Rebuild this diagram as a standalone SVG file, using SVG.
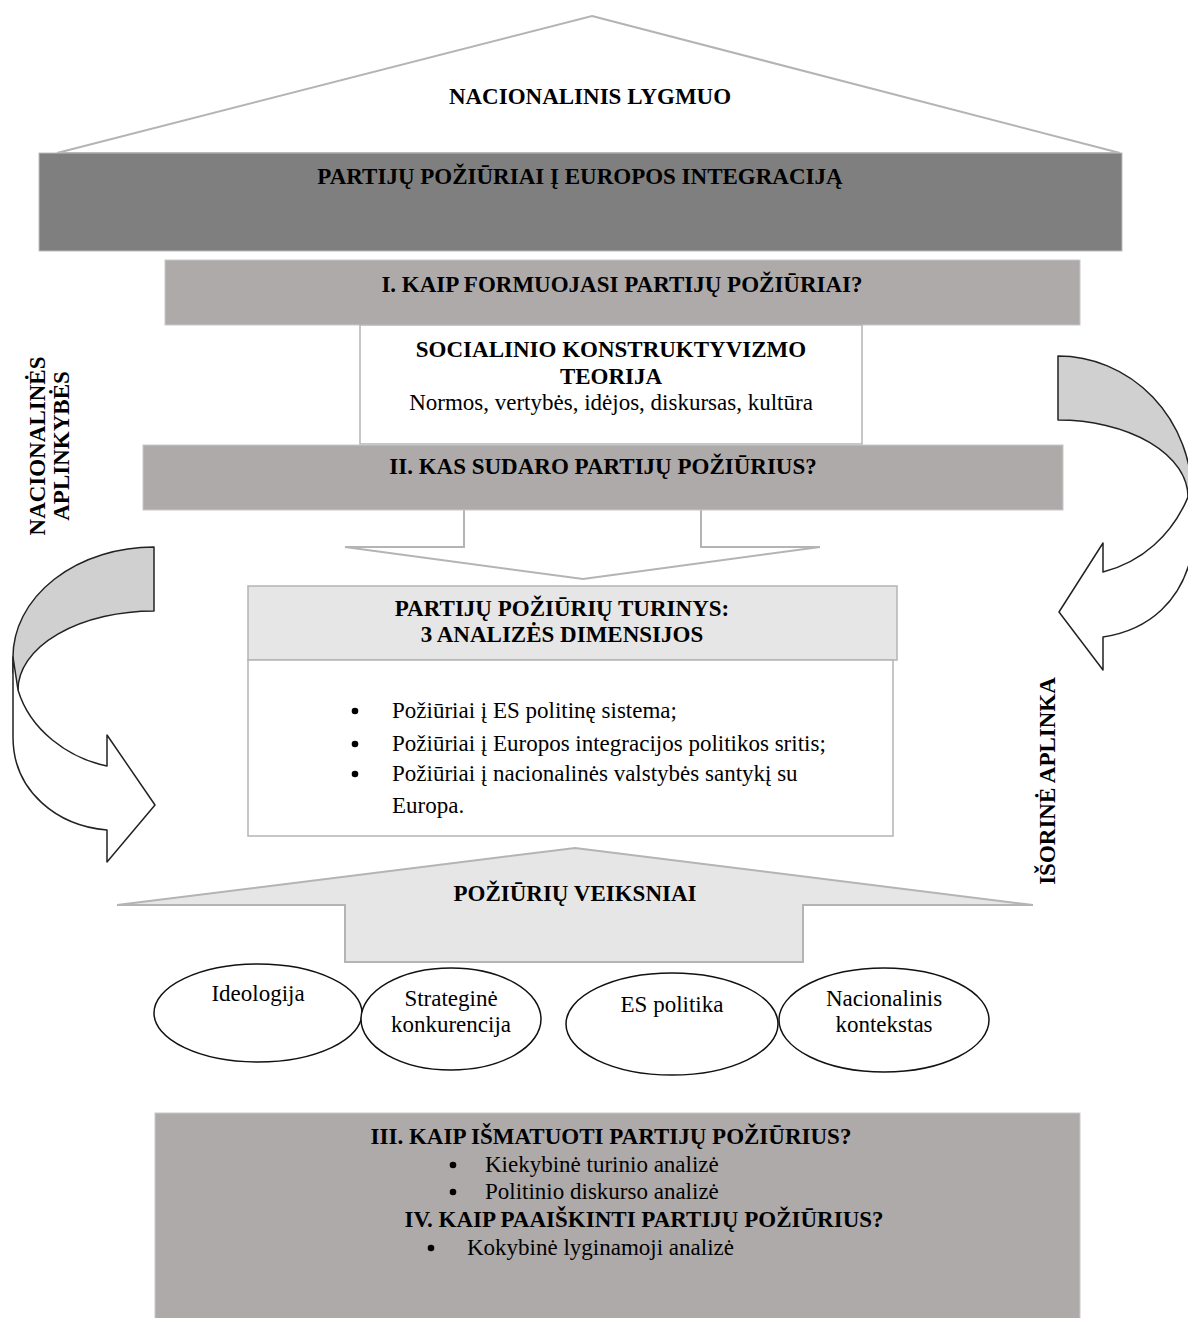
<svg xmlns="http://www.w3.org/2000/svg" width="1188" height="1318" viewBox="0 0 1188 1318">
<style>
text{font-family:"Liberation Serif","Times New Roman",serif;font-size:23px;fill:#000}
.b{font-weight:bold}
.m{text-anchor:middle}
.gbox{fill:#aeaaaa;stroke:#c8c8c8;stroke-width:1}
.wbox{fill:#fff;stroke:#b4b4b4;stroke-width:1.5}
.ln{fill:#fff;stroke:#b4b4b4;stroke-width:2}
.band{fill:#d0d0d0;stroke:#222;stroke-width:1.5;stroke-linejoin:round}
.bandw{fill:#fff;stroke:#222;stroke-width:1.5;stroke-linejoin:round}
.ell{fill:#fff;stroke:#111;stroke-width:1.5}
.dot{fill:#000}
</style>
<rect width="1188" height="1318" fill="#fff"/>

<g id="roof">
<polygon class="ln" points="592,16 1120,153 57,153"/>
<text class="b m" x="590" y="104">NACIONALINIS LYGMUO</text>
</g>

<g id="title">
<rect x="39" y="153" width="1083" height="98" fill="#7f7f7f" stroke="#bdbdbd" stroke-width="1"/>
<text class="b m" x="580" y="184">PARTIJŲ POŽIŪRIAI Į EUROPOS INTEGRACIJĄ</text>
</g>

<g id="connectors">
<polygon class="ln" points="464,505 464,547 345,547 583,579 820,547 701,547 701,505"/>
<polygon points="575,848 1033,905 803,905 803,962 345,962 345,905 117,905" fill="#e7e6e6" stroke="#b4b4b4" stroke-width="2"/>
<g id="left-curved-arrow">
<path class="band" d="M154,547 A141,110 0 0 0 13,657 L13,672 L18,690 A136,79 0 0 1 154,611 Z"/>
<path class="bandw" d="M13,657 L13,737 C13,792 58,826 107,830 L107,862 L155,805 L107,735 L107,766 C68,758 30,730 18,690 Z"/>
</g>
<g id="right-curved-arrow">
<path class="band" d="M1058,356 A134,140 0 0 1 1192,496 L1188,497 A130,77 0 0 0 1058,420 Z"/>
<path class="bandw" d="M1188,497 C1172,535 1142,562 1103,572 L1103,543 L1059,612 L1103,670 L1103,637 C1150,630 1182,600 1192,553 L1192,496 Z"/>
</g>
</g>

<g id="q1">
<rect class="gbox" x="165" y="260" width="915" height="65"/>
<text class="b m" x="622" y="292">I. KAIP FORMUOJASI PARTIJŲ POŽIŪRIAI?</text>
</g>

<g id="theory">
<rect class="wbox" x="360" y="325" width="502" height="119"/>
<text class="b m" x="611" y="357">SOCIALINIO KONSTRUKTYVIZMO</text>
<text class="b m" x="611" y="384">TEORIJA</text>
<text class="m" x="611" y="410">Normos, vertybės, idėjos, diskursas, kultūra</text>
</g>

<g id="q2">
<rect class="gbox" x="143" y="445" width="920" height="65"/>
<text class="b m" x="603" y="474">II. KAS SUDARO PARTIJŲ POŽIŪRIUS?</text>
</g>

<g id="content">
<rect x="248" y="586" width="649" height="74" fill="#e6e6e6" stroke="#b4b4b4" stroke-width="1.5"/>
<text class="b m" x="562" y="616">PARTIJŲ POŽIŪRIŲ TURINYS:</text>
<text class="b m" x="562" y="642">3 ANALIZĖS DIMENSIJOS</text>
<rect class="wbox" x="248" y="660" width="645" height="176"/>
<circle class="dot" cx="355" cy="711" r="3.3"/><text x="392" y="718">Požiūriai į ES politinę sistema;</text>
<circle class="dot" cx="355" cy="744" r="3.3"/><text x="392" y="751">Požiūriai į Europos integracijos politikos sritis;</text>
<circle class="dot" cx="355" cy="774" r="3.3"/><text x="392" y="781">Požiūriai į nacionalinės valstybės santykį su</text>
<text x="392" y="813">Europa.</text>
</g>

<g id="factors">
<text class="b m" x="575" y="901">POŽIŪRIŲ VEIKSNIAI</text>
</g>

<g id="f1"><ellipse class="ell" cx="258" cy="1013" rx="104" ry="49"/><text class="m" x="258" y="1001">Ideologija</text></g>
<g id="f2"><ellipse class="ell" cx="451" cy="1019" rx="90" ry="51"/><text class="m" x="451" y="1006">Strateginė</text><text class="m" x="451" y="1032">konkurencija</text></g>
<g id="f3"><ellipse class="ell" cx="672" cy="1024" rx="106" ry="51"/><text class="m" x="672" y="1012">ES politika</text></g>
<g id="f4"><ellipse class="ell" cx="884" cy="1020" rx="105" ry="52"/><text class="m" x="884" y="1006">Nacionalinis</text><text class="m" x="884" y="1032">kontekstas</text></g>

<g id="methods">
<rect class="gbox" x="155" y="1113" width="925" height="210"/>
<text class="b m" x="611" y="1144">III. KAIP IŠMATUOTI PARTIJŲ POŽIŪRIUS?</text>
<circle class="dot" cx="453" cy="1165" r="3.3"/><text x="485" y="1172">Kiekybinė turinio analizė</text>
<circle class="dot" cx="453" cy="1192" r="3.3"/><text x="485" y="1199">Politinio diskurso analizė</text>
<text class="b m" x="644" y="1227">IV. KAIP PAAIŠKINTI PARTIJŲ POŽIŪRIUS?</text>
<circle class="dot" cx="431" cy="1248" r="3.3"/><text x="467" y="1255">Kokybinė lyginamoji analizė</text>
</g>

<g id="label-left">
<text class="b m" transform="translate(45,446) rotate(-90)">NACIONALINĖS</text>
<text class="b m" transform="translate(69,446) rotate(-90)">APLINKYBĖS</text>
</g>
<g id="label-right">
<text class="b m" transform="translate(1055,781) rotate(-90)">IŠORINĖ APLINKA</text>
</g>
</svg>
